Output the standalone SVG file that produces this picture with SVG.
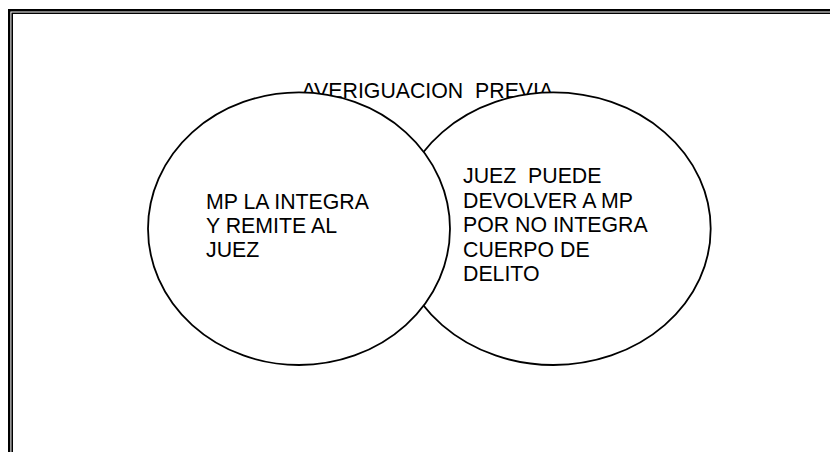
<svg xmlns="http://www.w3.org/2000/svg" width="830" height="452" viewBox="0 0 830 452">
<style>
.frame{fill:none;stroke:#000}
.node ellipse{fill:#fff;stroke:#000;stroke-width:1.8}
text{font-family:"Liberation Sans",Arial,sans-serif;font-size:21.3px;fill:#000}
</style>
<rect width="830" height="452" fill="#fff"/>
<g id="frame">
<path class="frame" d="M9.2 460 V10.2 H840" stroke-width="2.4"/>
<path class="frame" d="M12.2 460 V13.2 H840" stroke-width="1.6"/>
</g>
<g id="title">
<text x="301.5" y="98.3" xml:space="preserve">AVERIGUACION  PREVIA</text>
</g>
<g id="node-right" class="node">
<ellipse cx="553.4" cy="228.7" rx="157.3" ry="136.3"/>
<text x="463" y="183.3" xml:space="preserve">JUEZ  PUEDE</text>
<text x="463" y="207.5">DEVOLVER A MP</text>
<text x="463" y="232">POR NO INTEGRA</text>
<text x="463" y="256.5">CUERPO DE</text>
<text x="463" y="281">DELITO</text>
</g>
<g id="node-left" class="node">
<ellipse cx="299" cy="228.7" rx="151" ry="136.3"/>
<text x="206" y="208.5">MP LA INTEGRA</text>
<text x="206" y="232.8">Y REMITE AL</text>
<text x="206" y="257">JUEZ</text>
</g>
<g id="connectors"></g>
</svg>
